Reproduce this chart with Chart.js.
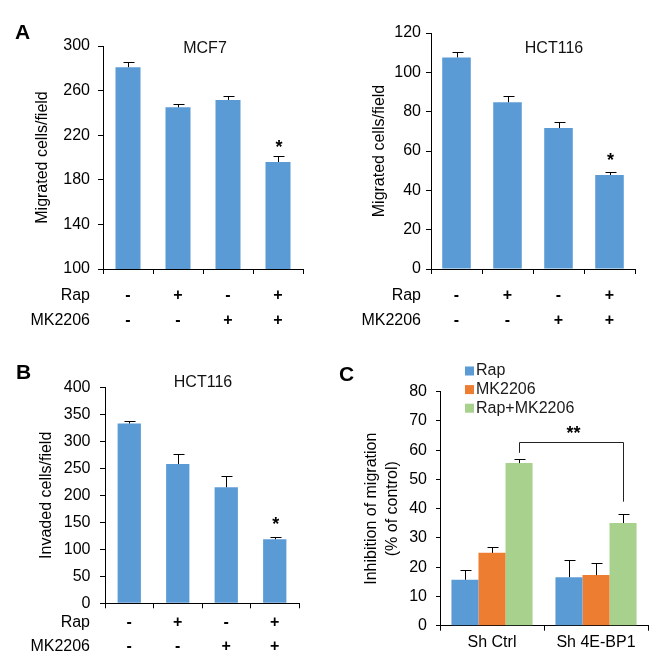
<!DOCTYPE html>
<html>
<head>
<meta charset="utf-8">
<title>Rap / MK2206 migration and invasion</title>
<script src="https://cdn.jsdelivr.net/npm/chart.js@4.4.1/dist/chart.umd.min.js"></script>
<style>
  body { margin: 0; background: #fff; }
  .panel { position: absolute; }
  .letter { position: absolute; font: bold 21px "Liberation Sans", Arial, sans-serif; line-height: 21px; color: #000; }
</style>
</head>
<body>
<div class="panel" style="left:0;top:0;width:330px;height:340px"><canvas id="chartMcf7"></canvas></div>
<div class="panel" style="left:330px;top:0;width:327px;height:340px"><canvas id="chartHctMig"></canvas></div>
<div class="panel" style="left:0;top:340px;width:330px;height:322px"><canvas id="chartHctInv"></canvas></div>
<div class="panel" style="left:330px;top:340px;width:327px;height:322px"><canvas id="chartInhib"></canvas></div>
<div class="letter" style="left:15px;top:21px">A</div>
<div class="letter" style="left:16px;top:361px">B</div>
<div class="letter" style="left:339px;top:363px">C</div>

<script>
// treatment rows under panels A and B
const rapRow = ['-', '+', '-', '+'];
const mkRow = ['-', '-', '+', '+'];
const rowNames = ['Rap', 'MK2206'];
const treatments = rapRow.map((r, i) => [r, mkRow[i]]);
const starMarks = ['', '', '', '*'];

// A: migrated cells/field
const mcf7Migrated = [281, 245, 251.6, 196];
const mcf7Err = [5, 3.4, 3.3, 5.4];
const hctMigrated = [107.6, 84.8, 71.7, 47.8];
const hctMigratedErr = [2.5, 3.0, 2.9, 1.4];

// B: invaded cells/field
const hctInvaded = [333, 258, 215, 118.5];
const hctInvadedErr = [5.5, 18, 20, 5];

// C: inhibition of migration (% of control)
const shGroups = ['Sh Ctrl', 'Sh 4E-BP1'];
const inhibRap = [15.7, 16.6];
const inhibRapErr = [3.3, 5.9];
const inhibMk = [24.9, 17.3];
const inhibMkErr = [2.1, 4.2];
const inhibBoth = [55.6, 35.1];
const inhibBothErr = [1.4, 3.1];
const bracketLevels = [62.7, 59.1, 42.4]; // top line, left leg end, right leg end

const FONT = '"Liberation Sans", Arial, sans-serif';
Chart.defaults.font.family = FONT;
Chart.defaults.font.size = 16;
Chart.defaults.color = '#000';

const BLUE = '#5b9bd5', ORANGE = '#ed7d31', GREEN = '#a9d18e';

// error bars, stars, titles, row names, legend, bracket
const extras = {
  id: 'extras',
  afterDraw(chart, args, o) {
    const ctx = chart.ctx, ys = chart.scales.y, a = chart.chartArea;
    ctx.save();
    ctx.strokeStyle = '#000';
    ctx.fillStyle = '#000';
    ctx.lineWidth = 1;

    chart.data.datasets.forEach((ds, i) => {
      chart.getDatasetMeta(i).data.forEach((bar, j) => {
        const top = Math.round(ys.getPixelForValue(ds.data[j] + ds.errors[j])) + 0.5;
        const bx = Math.round(bar.x) + 0.5;
        ctx.beginPath();
        ctx.moveTo(bx, bar.y);
        ctx.lineTo(bx, top);
        ctx.moveTo(bx - 5, top);
        ctx.lineTo(bx + 6, top);
        ctx.stroke();
        if (ds.marks && ds.marks[j]) {
          ctx.font = 'bold 18px ' + FONT;
          ctx.textAlign = 'center';
          ctx.textBaseline = 'alphabetic';
          ctx.fillText(ds.marks[j], bar.x + 1, bar.y - 9);
        }
      });
    });

    ctx.font = '16px ' + FONT;
    if (o.title) {
      ctx.textAlign = 'center';
      ctx.textBaseline = 'middle';
      ctx.fillStyle = '#111';
      ctx.fillText(o.title.text, o.title.x, o.title.y);
    }

    if (o.rows) {
      ctx.textAlign = 'right';
      ctx.textBaseline = 'middle';
      ctx.fillStyle = '#000';
      o.rows.names.forEach((n, k) => {
        ctx.fillText(n, o.rows.x, a.bottom + o.rows.offset + k * o.rows.gap);
      });
    }

    if (o.legend) {
      const L = o.legend;
      ctx.textAlign = 'left';
      ctx.textBaseline = 'middle';
      chart.data.datasets.forEach((ds, i) => {
        const cy = L.y + i * L.gap;
        ctx.fillStyle = ds.backgroundColor;
        ctx.fillRect(L.x, cy - L.box / 2, L.box, L.box);
        ctx.fillStyle = '#1a1a1a';
        ctx.fillText(ds.label, L.x + L.box + 2, cy);
      });
    }

    if (o.bracket) {
      const bars = chart.getDatasetMeta(o.bracket.dataset).data;
      const x1 = Math.round(bars[0].x) + 0.5, x2 = Math.round(bars[1].x) + 0.5;
      const [lvTop, lvLeft, lvRight] = o.bracket.levels;
      const yt = Math.round(ys.getPixelForValue(lvTop)) + 0.5;
      ctx.strokeStyle = '#222';
      ctx.beginPath();
      ctx.moveTo(x1, ys.getPixelForValue(lvLeft));
      ctx.lineTo(x1, yt);
      ctx.lineTo(x2, yt);
      ctx.lineTo(x2, ys.getPixelForValue(lvRight));
      ctx.stroke();
      ctx.fillStyle = '#000';
      ctx.font = 'bold 18px ' + FONT;
      ctx.textAlign = 'center';
      ctx.textBaseline = 'alphabetic';
      ctx.fillText(o.bracket.text, (x1 + x2) / 2 + 2, yt - 4);
    }
    ctx.restore();
  }
};

function makePanel(id, w, h, p) {
  return new Chart(document.getElementById(id), {
    type: 'bar',
    data: { labels: p.labels, datasets: p.datasets },
    options: {
      responsive: true,
      maintainAspectRatio: false,
      animation: false,
      layout: { padding: { top: p.area.top, right: w - p.area.right, left: 0, bottom: 0 } },
      datasets: { bar: { barPercentage: p.barPct, categoryPercentage: p.catPct } },
      plugins: { legend: { display: false }, tooltip: { enabled: false }, extras: p.extras },
      scales: {
        x: {
          grid: { drawOnChartArea: false, color: '#000', tickLength: p.xTick, offset: true },
          border: { color: '#000' },
          ticks: { color: '#000', padding: p.xPad, maxRotation: 0, autoSkip: false,
                   font: { size: 16, weight: p.xBold ? 'bold' : 'normal', lineHeight: p.xLine / 16 } },
          afterFit: s => { s.height = h - p.area.bottom; }
        },
        y: {
          min: p.yMin, max: p.yMax,
          grid: { drawOnChartArea: false, color: '#000', tickLength: p.yTick },
          border: { color: '#000' },
          ticks: { stepSize: p.yStep, padding: p.yPad, color: '#000', font: { size: 16 } },
          title: { display: true, text: p.yTitle, color: '#000',
                   font: { size: 16, lineHeight: p.titleLine / 16 },
                   padding: { top: p.titlePos - p.titleLine / 2, bottom: 0 } },
          afterFit: s => { s.width = p.area.left; }
        }
      }
    },
    plugins: [extras]
  });
}

function abRows(x, offset, gap) {
  return { names: rowNames, x: x, offset: offset, gap: gap };
}

makePanel('chartMcf7', 330, 340, {
  labels: treatments,
  datasets: [{ data: mcf7Migrated, errors: mcf7Err, marks: starMarks, backgroundColor: BLUE }],
  area: { left: 103, top: 46, right: 303, bottom: 269 },
  yMin: 100, yMax: 300, yStep: 40, yTick: 5, yPad: 8,
  xTick: 5, xPad: 9.5, xLine: 25, xBold: true, barPct: 0.5, catPct: 1,
  yTitle: 'Migrated cells/field', titleLine: 19.2, titlePos: 43,
  extras: { title: { text: 'MCF7', x: 205, y: 49 }, rows: abRows(90, 27, 25) }
});

makePanel('chartHctMig', 327, 340, {
  labels: treatments,
  datasets: [{ data: hctMigrated, errors: hctMigratedErr, marks: starMarks, backgroundColor: BLUE }],
  area: { left: 101, top: 33, right: 305, bottom: 269 },
  yMin: 0, yMax: 120, yStep: 20, yTick: 5, yPad: 5,
  xTick: 5, xPad: 9.5, xLine: 25, xBold: true, barPct: 0.56, catPct: 1,
  yTitle: 'Migrated cells/field', titleLine: 19.2, titlePos: 50,
  extras: { title: { text: 'HCT116', x: 224, y: 49 }, rows: abRows(91, 27, 25) }
});

makePanel('chartHctInv', 330, 322, {
  labels: treatments,
  datasets: [{ data: hctInvaded, errors: hctInvadedErr, marks: starMarks, backgroundColor: BLUE }],
  area: { left: 105, top: 47.3, right: 299, bottom: 263.3 },
  yMin: 0, yMax: 400, yStep: 50, yTick: 5, yPad: 9.5,
  xTick: 5, xPad: 2.7, xLine: 24, xBold: true, barPct: 0.48, catPct: 1,
  yTitle: 'Invaded cells/field', titleLine: 19.2, titlePos: 47,
  extras: { title: { text: 'HCT116', x: 203, y: 43 }, rows: abRows(90, 19.7, 24) }
});

makePanel('chartInhib', 327, 322, {
  labels: shGroups,
  datasets: [
    { label: 'Rap', data: inhibRap, errors: inhibRapErr, backgroundColor: BLUE },
    { label: 'MK2206', data: inhibMk, errors: inhibMkErr, backgroundColor: ORANGE },
    { label: 'Rap+MK2206', data: inhibBoth, errors: inhibBothErr, backgroundColor: GREEN }
  ],
  area: { left: 110, top: 51.7, right: 318, bottom: 285.7 },
  yMin: 0, yMax: 80, yStep: 10, yTick: 4, yPad: 9,
  xTick: 5, xPad: 2.7, xLine: 19.2, xBold: false, barPct: 1, catPct: 0.78,
  yTitle: ['Inhibition of migration', '(% of control)'], titleLine: 21, titlePos: 42,
  extras: {
    legend: { x: 135, y: 31, gap: 18.6, box: 9 },
    bracket: { dataset: 2, levels: bracketLevels, text: '**' }
  }
});
</script>
</body>
</html>
